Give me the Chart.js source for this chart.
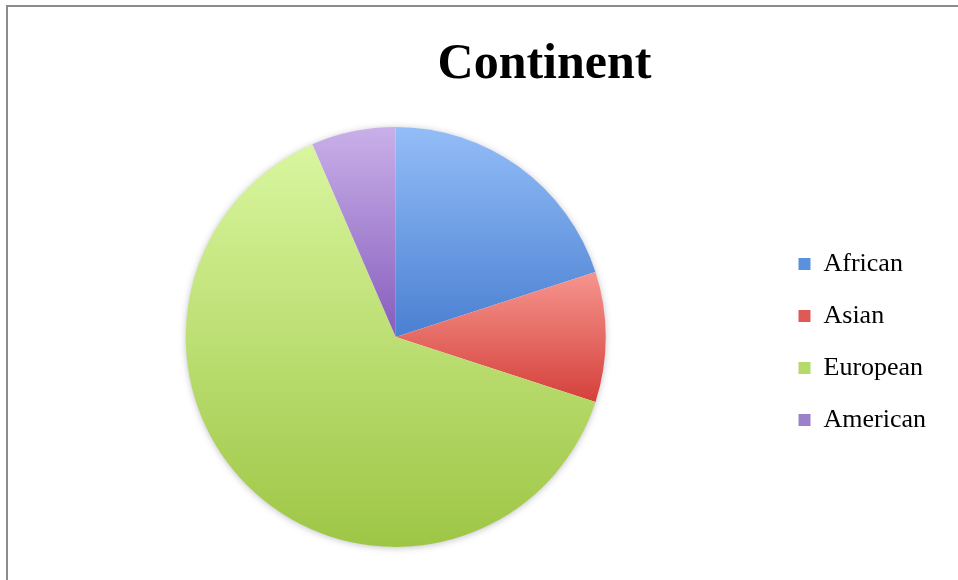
<!DOCTYPE html>
<html>
<head>
<meta charset="utf-8">
<script src="https://cdn.jsdelivr.net/npm/chart.js@4/dist/chart.umd.min.js"></script>
<style>
  html, body { margin: 0; padding: 0; background: #ffffff; }
  #wrap { position: relative; width: 958px; height: 580px; overflow: hidden; }
  #frame {
    position: absolute; left: 6px; top: 5px; width: 1000px; height: 700px;
    border-top: 2px solid #8c8c8c; border-left: 2px solid #8c8c8c;
    pointer-events: none;
  }
  canvas { position: absolute; left: 0; top: 0; }
</style>
</head>
<body>
<div id="wrap">
  <canvas id="chart" width="958" height="580"></canvas>
  <div id="frame"></div>
</div>
<script>
// Chart text
const chartTitle = 'Continent';

// Slice categories and their shares (percent)
const categories = ['African', 'Asian', 'European', 'American'];
const shares = [20, 10, 63.5, 6.5];

// Vertical shading of each slice: lighter at its top, deeper at its bottom
const topColors = ['#93bdf7', '#f6958e', '#d9f69f', '#c9b0e9'];
const bottomColors = ['#4a80d2', '#d5403b', '#9ec645', '#865dbc'];
// Flat swatch colours for the legend
const swatchColors = ['#5b90de', '#e05a55', '#b5da6c', '#9d80ca'];

// Vertical extent of slice i, from the pie geometry in the chart area
function sliceSpan(chart, i) {
  const area = chart.chartArea;
  const cx = (area.left + area.right) / 2;
  const cy = (area.top + area.bottom) / 2;
  const r = Math.min(area.right - area.left, area.bottom - area.top) / 2;
  const total = shares.reduce((a, b) => a + b, 0);
  let before = 0;
  for (let k = 0; k < i; k++) before += shares[k];
  const a0 = -Math.PI / 2 + before / total * Math.PI * 2;
  const a1 = a0 + shares[i] / total * Math.PI * 2;
  const ys = [cy, cy + r * Math.sin(a0), cy + r * Math.sin(a1)];
  const within = (a) => {
    for (let t = a - 4 * Math.PI; t <= a1 + 1e-9; t += 2 * Math.PI) {
      if (t >= a0 - 1e-9 && t <= a1 + 1e-9) return true;
    }
    return false;
  };
  if (within(-Math.PI / 2)) ys.push(cy - r);
  if (within(Math.PI / 2)) ys.push(cy + r);
  return { top: Math.min(...ys), bottom: Math.max(...ys) };
}

function sliceFill(context) {
  const chart = context.chart;
  const i = context.dataIndex;
  if (!chart.chartArea || i === undefined) return swatchColors[i || 0];
  const span = sliceSpan(chart, i);
  const g = chart.ctx.createLinearGradient(0, span.top, 0, span.bottom);
  g.addColorStop(0, topColors[i]);
  g.addColorStop(1, bottomColors[i]);
  return g;
}

// Soft halo under the pie
const pieShadow = {
  id: 'pieShadow',
  beforeDatasetsDraw(chart) {
    const arc = chart.getDatasetMeta(0).data[0];
    if (!arc) return;
    const ctx = chart.ctx;
    ctx.save();
    ctx.shadowColor = 'rgba(60, 60, 90, 0.35)';
    ctx.shadowBlur = 7;
    ctx.shadowOffsetX = 0;
    ctx.shadowOffsetY = 1;
    ctx.fillStyle = '#ffffff';
    ctx.beginPath();
    ctx.arc(arc.x, arc.y, arc.outerRadius - 0.5, 0, Math.PI * 2);
    ctx.fill();
    ctx.restore();
  }
};

// Heading, centred over the whole plot; legend column sits a little low
const headline = {
  id: 'headline',
  afterLayout(chart) {
    if (chart.legend) {
      chart.legend.top += 5;
      chart.legend.bottom += 5;
    }
  },
  afterDraw(chart) {
    const ctx = chart.ctx;
    ctx.save();
    ctx.font = 'bold 50px "Liberation Serif", "Times New Roman", serif';
    ctx.fillStyle = '#000000';
    ctx.textAlign = 'center';
    ctx.textBaseline = 'alphabetic';
    ctx.fillText(chartTitle, 544.5, 78);
    ctx.restore();
  }
};

new Chart(document.getElementById('chart'), {
  type: 'pie',
  data: {
    labels: categories,
    datasets: [{
      data: shares,
      backgroundColor: sliceFill,
      borderWidth: 0,
      hoverOffset: 0
    }]
  },
  options: {
    responsive: false,
    animation: false,
    devicePixelRatio: 1,
    layout: { padding: { left: 19, right: 22, top: 127, bottom: 33 } },
    plugins: {
      tooltip: { enabled: false },
      title: { display: false },
      legend: {
        display: true,
        position: 'right',
        align: 'center',
        labels: {
          boxWidth: 12,
          boxHeight: 12,
          padding: 26,
          color: '#111111',
          font: { family: '"Liberation Serif", "Times New Roman", serif', size: 26 },
          generateLabels(chart) {
            return categories.map((name, i) => ({
              text: name,
              fillStyle: swatchColors[i],
              strokeStyle: swatchColors[i],
              lineWidth: 0,
              hidden: false,
              index: i
            }));
          }
        }
      }
    }
  },
  plugins: [pieShadow, headline]
});
</script>
</body>
</html>
